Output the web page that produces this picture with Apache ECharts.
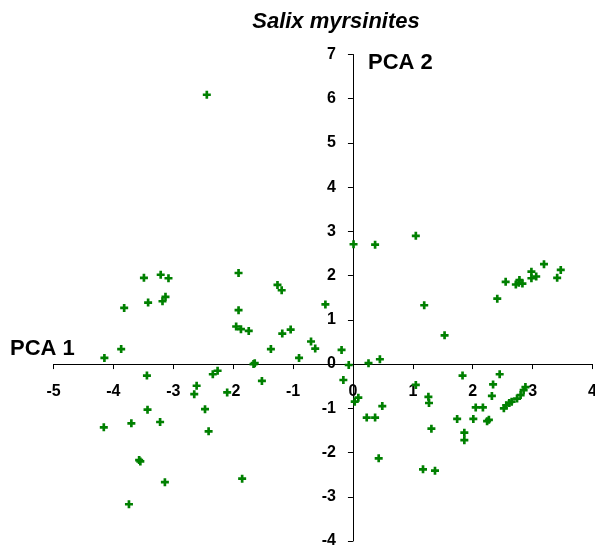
<!DOCTYPE html>
<html>
<head>
<meta charset="utf-8">
<title>Salix myrsinites</title>
<script src="https://cdn.jsdelivr.net/npm/echarts@6/dist/echarts.min.js"></script>
<style>
  html, body { margin: 0; padding: 0; background: #fff; }
  #chart { width: 595px; height: 547px; }
</style>
</head>
<body>
<div id="chart"></div>
<script>
// PCA scores of Salix myrsinites samples (first and second principal components)
const pca1Scores = [
  -4.15, -3.87, -3.82, -3.49, -3.42, -3.21, -3.08, -3.18, -3.13, -2.44,
  -1.91, -1.91, -1.95, -1.87, -1.74, -1.26, -1.19, -1.18, -1.04, -1.37,
  -0.90, -0.70, -0.63, -0.46, -0.19, -1.66, -1.64, -1.52, -0.16, -0.07,
  -3.44, -2.61, -2.65, -2.34, -2.26, -2.10, -3.43, -2.47, -4.16, -3.70,
  -3.22, -2.41, -3.57, -3.55, -3.14, -1.85, -3.74,
  0.01, 0.37, 1.05, 1.19, 1.53, 0.26, 0.45, 0.09, 0.03, 0.49,
  0.23, 0.37, 0.43, 1.05, 1.26, 1.27, 1.31, 1.17, 1.37, 1.83,
  1.74, 2.01, 2.05, 2.17, 1.86, 1.86, 2.41, 2.55, 2.72, 2.78,
  2.83, 2.77, 2.98, 2.98, 3.06, 3.19, 3.41, 3.47, 2.45, 2.34,
  2.32, 2.24, 2.27, 2.52, 2.56, 2.61, 2.65, 2.74, 2.80, 2.85, 2.88
];
const pca2Scores = [
  0.14, 0.34, 1.27, 1.95, 1.39, 2.02, 1.94, 1.42, 1.52, 6.09,
  2.06, 1.22, 0.85, 0.79, 0.75, 1.79, 1.67, 0.69, 0.78, 0.34,
  0.14, 0.51, 0.35, 1.35, 0.32, 0.00, 0.02, -0.38, -0.36, -0.02,
  -0.26, -0.49, -0.68, -0.23, -0.15, -0.64, -1.03, -1.02, -1.43, -1.34,
  -1.31, -1.52, -2.17, -2.20, -2.67, -2.59, -3.17,
  2.71, 2.70, 2.90, 1.33, 0.65, 0.02, 0.11, -0.76, -0.85, -0.95,
  -1.21, -1.21, -2.13, -0.47, -0.74, -0.88, -1.46, -2.38, -2.41, -0.26,
  -1.24, -1.24, -0.98, -0.98, -1.55, -1.72, 1.48, 1.86, 1.80, 1.90,
  1.82, 1.84, 2.09, 1.94, 1.98, 2.26, 1.95, 2.13, -0.23, -0.46,
  -0.72, -1.29, -1.26, -1.00, -0.93, -0.88, -0.85, -0.78, -0.70, -0.59, -0.52
];

// Axis ranges and tick step
const pca1Range = [-5, 4];
const pca2Range = [-4, 7];
const tickStep = 1;

const titleText = 'Salix myrsinites';
const xName = 'PCA 1';
const yName = 'PCA 2';

const points = pca1Scores.map((x, i) => [x, pca2Scores[i]]);

const FONT = '"Liberation Sans", Arial, sans-serif';
const plusSymbol = 'path://M3,0H6V3H9V6H6V9H3V6H0V3H3Z';

// Plot rectangle
const W = 595, H = 547;
const gridBox = { left: 53.5, right: 2.5, top: 54.5, bottom: 6 };
const plotW = W - gridBox.left - gridBox.right;
const plotH = H - gridBox.top - gridBox.bottom;

// Both axes cross at the origin: shift them inward from their default edges
const xAxisShift = -plotH * (0 - pca2Range[0]) / (pca2Range[1] - pca2Range[0]);
const yAxisShift = -plotW * (0 - pca1Range[0]) / (pca1Range[1] - pca1Range[0]);

const axisCommon = {
  type: 'value',
  interval: tickStep,
  axisLine: { onZero: false, lineStyle: { color: '#000', width: 1 } },
  axisTick: { show: true, length: 5, lineStyle: { color: '#000', width: 1 } },
  splitLine: { show: false },
  axisLabel: {
    color: '#000',
    fontFamily: FONT,
    fontWeight: 'bold',
    fontSize: 16
  }
};

const chart = echarts.init(document.getElementById('chart'), null, { renderer: 'canvas' });
chart.setOption({
  animation: false,
  backgroundColor: '#fff',
  grid: Object.assign({ containLabel: false, outerBoundsMode: 'none' }, gridBox),
  xAxis: Object.assign({}, axisCommon, {
    position: 'bottom',
    offset: xAxisShift,
    min: pca1Range[0],
    max: pca1Range[1],
    axisLabel: Object.assign({}, axisCommon.axisLabel, { margin: 20 })
  }),
  yAxis: Object.assign({}, axisCommon, {
    position: 'left',
    offset: yAxisShift,
    min: pca2Range[0],
    max: pca2Range[1],
    axisLabel: Object.assign({}, axisCommon.axisLabel, { margin: 17 })
  }),
  graphic: [
    {
      type: 'text',
      x: 336,
      y: 22,
      style: {
        text: titleText,
        font: 'italic bold 22px ' + FONT,
        fill: '#000',
        align: 'center',
        verticalAlign: 'middle'
      }
    },
    {
      type: 'text',
      x: 10,
      y: 349,
      style: { text: xName, font: 'bold 22px ' + FONT, fill: '#000', verticalAlign: 'middle' }
    },
    {
      type: 'text',
      x: 368,
      y: 63,
      style: { text: yName, font: 'bold 22px ' + FONT, fill: '#000', verticalAlign: 'middle' }
    }
  ],
  series: [{
    type: 'scatter',
    data: points,
    symbol: plusSymbol,
    symbolSize: 8,
    itemStyle: { color: '#008000', opacity: 1 },
    emphasis: { disabled: true }
  }]
});
</script>
</body>
</html>
